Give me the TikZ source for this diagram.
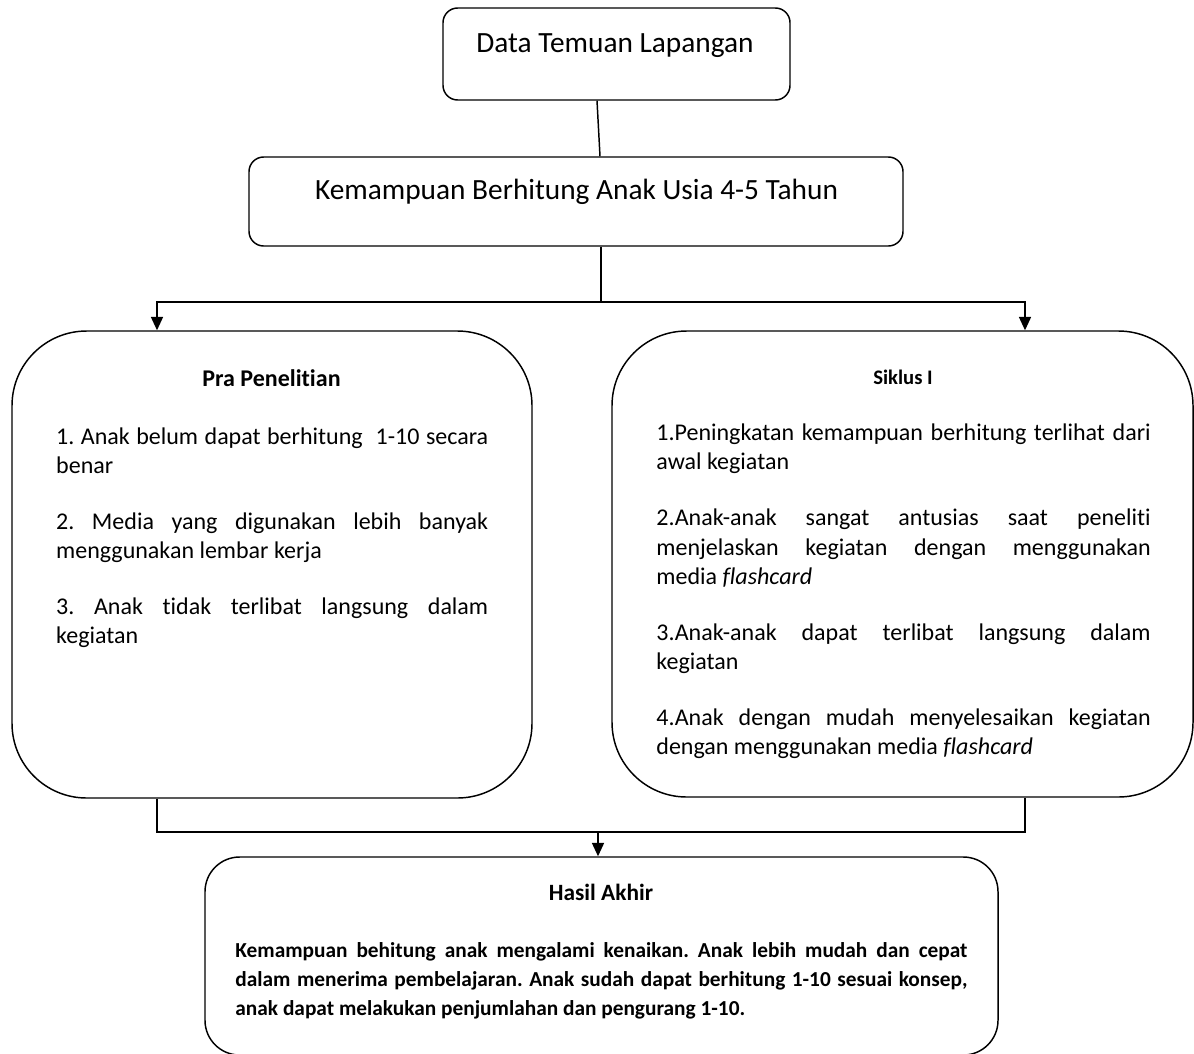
\documentclass[tikz,border=0pt]{standalone}
\usepackage{fontspec}
\setmainfont[Ligatures=NoCommon]{Carlito}
\usetikzlibrary{arrows.meta,positioning}

\begin{document}
\begin{tikzpicture}[x=0.75pt,y=-0.75pt,>={Triangle[length=10pt,width=9pt]},
                    line width=1.1pt,
                    box/.style={draw,rounded corners=#1,inner sep=0pt},
                    head/.style={font=\fontsize{22}{26}\selectfont,anchor=base,inner sep=0pt},
                    title/.style={font=\bfseries\fontsize{#1}{22}\selectfont,anchor=base,inner sep=0pt},
                    list/.style={font=\fontsize{18}{21.9}\selectfont,text width=#1,align=justify,
                                 anchor=north west,inner sep=0pt}]
  \useasboundingbox (0,0) rectangle (1194,1053);

  % boxes
  \node[box=11pt,minimum width=260.25pt,minimum height=69pt] (temuan) at (616.5,54) {};
  \node[box=11pt,minimum width=490.5pt,minimum height=66.75pt] (kemampuan) at (576,201.5) {};
  \node[box=56pt,minimum width=390pt,minimum height=350.25pt] (pra) at (272,564.5) {};
  \node[box=56pt,minimum width=435.75pt,minimum height=349.5pt] (siklus) at (902.5,564) {};
  \node[box=26pt,minimum width=594.75pt,minimum height=148.5pt] (hasil) at (601.5,956) {};

  % texts
  \node[head] (temuanText) at (615,52.7) {Data Temuan Lapangan};
  \node[head] (kemampuanText) at (576.5,199) {Kemampuan Berhitung Anak Usia 4-5 Tahun};
  \node[title=18] (praTitle) at (271.5,386.7) {Pra Penelitian};
  \node[title=15.5] (siklusTitle) at (903,384) {Siklus I};
  \node[title=17.5] (hasilTitle) at (601,900) {Hasil Akhir};

  \node[list=324pt] (praList) at (55.5,423) {\setlength{\parindent}{0pt}\setlength{\parskip}{20pt}\frenchspacing\hyphenpenalty=10000\exhyphenpenalty=10000
    \strut 1. Anak belum dapat berhitung~ 1-10 secara\linebreak benar\par
    2. Media yang digunakan lebih banyak\linebreak menggunakan lembar kerja\par
    3. Anak tidak terlibat langsung dalam\linebreak kegiatan};
  \node[list=370.7pt] (siklusList) at (655.7,419.6) {\setlength{\parindent}{0pt}\setlength{\parskip}{20pt}\frenchspacing\hyphenpenalty=10000\exhyphenpenalty=10000
    \strut 1.Peningkatan kemampuan berhitung terlihat dari\linebreak awal kegiatan\par
    2.Anak-anak sangat antusias saat peneliti\linebreak menjelaskan kegiatan dengan menggunakan\linebreak media \textit{flashcard}\par
    3.Anak-anak dapat terlibat langsung dalam\linebreak kegiatan\par
    4.Anak dengan mudah menyelesaikan kegiatan\linebreak dengan menggunakan media \textit{flashcard}};
  \node[list=549pt,font=\bfseries\fontsize{16}{21.9}\selectfont] (hasilList) at (234.7,936.3) {\setlength{\parindent}{0pt}\frenchspacing\hyphenpenalty=10000\exhyphenpenalty=10000
    \strut Kemampuan behitung anak mengalami kenaikan. Anak lebih mudah dan cepat\linebreak
    dalam menerima pembelajaran. Anak sudah dapat berhitung 1-10 sesuai konsep,\linebreak
    anak dapat melakukan penjumlahan dan pengurang 1-10.};

  % connectors
  \coordinate (upper) at (597,0);
  \coordinate (lower) at (600,0);
  \coordinate (split) at (601,302);
  \coordinate (join) at (598,832);
  \coordinate (lft) at (157,0);
  \coordinate (rgt) at (1025,0);

  \draw (temuan.south -| upper) -- (kemampuan.north -| lower);
  \draw (kemampuan.south -| split) -- (split);
  \draw[->] (split) -| (pra.north -| lft);
  \draw[->] (split) -| (siklus.north -| rgt);
  \draw (pra.south -| lft) |- (join) -| (siklus.south -| rgt);
  \draw[->] (join) -- (hasil.north -| join);
\end{tikzpicture}
\end{document}
